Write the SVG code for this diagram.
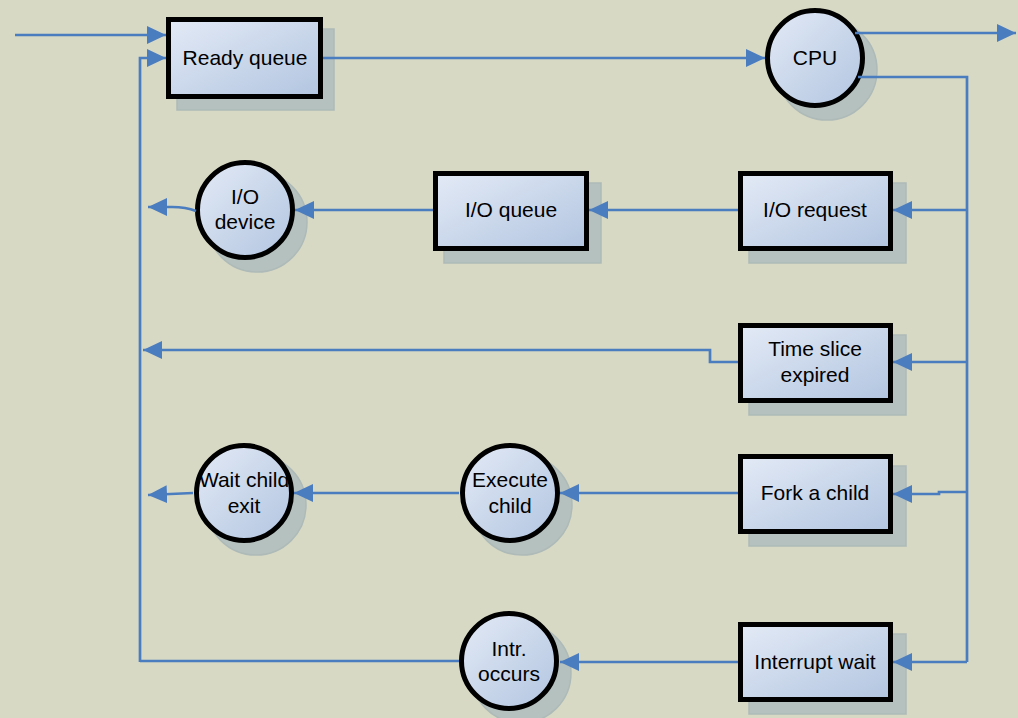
<svg xmlns="http://www.w3.org/2000/svg" width="1018" height="718" viewBox="0 0 1018 718">
<defs>
<linearGradient id="g" x1="0" y1="0" x2="1" y2="1">
<stop offset="0" stop-color="#e3eaf6"/>
<stop offset="1" stop-color="#b2c5e0"/>
</linearGradient>
<marker id="ah" markerUnits="userSpaceOnUse" markerWidth="19" markerHeight="18" refX="19" refY="9" orient="auto">
<path d="M0,0 L19,9 L0,18 z" fill="#4a7cc0"/>
</marker>
<style>
.sh{fill:#b5c1bf;stroke:#adbab8;stroke-width:1.5}
.nd{fill:url(#g);stroke:#000;stroke-width:5}
.t{font-family:"Liberation Sans",Arial,sans-serif;font-size:21px;fill:#000;text-anchor:middle}
.c{fill:none;stroke:#4a7cc0;stroke-width:2.7}
.ca{fill:none;stroke:#4a7cc0;stroke-width:2.7;marker-end:url(#ah)}
</style>
</defs>
<rect width="1018" height="718" fill="#d8d9c4"/>

<g id="ready-queue">
<rect class="sh" x="177" y="29" width="157" height="81"/>
<rect class="nd" x="168.5" y="19.5" width="152" height="77"/>
<text class="t" x="245" y="65">Ready queue</text>
</g>

<g id="cpu">
<circle class="sh" cx="827" cy="70" r="50"/>
<circle class="nd" cx="815" cy="58" r="47.5"/>
<text class="t" x="815" y="65">CPU</text>
</g>

<g id="io-request">
<rect class="sh" x="749" y="183" width="157" height="80"/>
<rect class="nd" x="740.5" y="173.5" width="150" height="75"/>
<text class="t" x="815" y="217">I/O request</text>
</g>

<g id="io-queue">
<rect class="sh" x="444" y="183" width="157" height="80"/>
<rect class="nd" x="435.5" y="173.5" width="151" height="75"/>
<text class="t" x="511" y="217">I/O queue</text>
</g>

<g id="io-device">
<circle class="sh" cx="257" cy="222" r="50"/>
<circle class="nd" cx="245" cy="210" r="47.5"/>
<text class="t" x="245" y="204">I/O</text>
<text class="t" x="245" y="229">device</text>
</g>

<g id="time-slice">
<rect class="sh" x="749" y="335" width="157" height="80"/>
<rect class="nd" x="740.5" y="325.5" width="150" height="75"/>
<text class="t" x="815" y="356">Time slice</text>
<text class="t" x="815" y="382">expired</text>
</g>

<g id="fork-child">
<rect class="sh" x="749" y="466" width="157" height="80"/>
<rect class="nd" x="740.5" y="456.5" width="150" height="75"/>
<text class="t" x="815" y="500">Fork a child</text>
</g>

<g id="execute-child">
<circle class="sh" cx="522" cy="505" r="50"/>
<circle class="nd" cx="510" cy="493" r="47.5"/>
<text class="t" x="510" y="487">Execute</text>
<text class="t" x="510" y="513">child</text>
</g>

<g id="wait-child">
<circle class="sh" cx="256" cy="505" r="50"/>
<circle class="nd" cx="244" cy="493" r="47.5"/>
<text class="t" x="244" y="487">Wait child</text>
<text class="t" x="244" y="513">exit</text>
</g>

<g id="interrupt-wait">
<rect class="sh" x="749" y="634" width="157" height="80"/>
<rect class="nd" x="740.5" y="624.5" width="150" height="75"/>
<text class="t" x="815" y="669">Interrupt wait</text>
</g>

<g id="intr-occurs">
<circle class="sh" cx="521" cy="673" r="50"/>
<circle class="nd" cx="509" cy="661" r="47.5"/>
<text class="t" x="509" y="656">Intr.</text>
<text class="t" x="509" y="681">occurs</text>
</g>

<g id="connectors">
<path class="ca" d="M15,35 H166"/>
<path class="ca" d="M140,662 V58 H166"/>
<path class="ca" d="M323,58 H765"/>
<path class="ca" d="M855,33 H1016"/>
<path class="c" d="M858,77 H967 V662"/>
<path class="ca" d="M967,210 H893"/>
<path class="ca" d="M738,210 H589"/>
<path class="ca" d="M433,210 H295"/>
<path class="ca" d="M196,211 Q186,207 172,207 H148"/>
<path class="ca" d="M967,362 H893"/>
<path class="ca" d="M738,362 H710 V350 H143"/>
<path class="ca" d="M967,492 H939 V494 H893"/>
<path class="ca" d="M738,493 H560"/>
<path class="ca" d="M459,493 H294"/>
<path class="ca" d="M193,493 L148,495"/>
<path class="ca" d="M967,662 H893"/>
<path class="ca" d="M738,662 H560"/>
<path class="c" d="M459,661 H140"/>
</g>
</svg>
